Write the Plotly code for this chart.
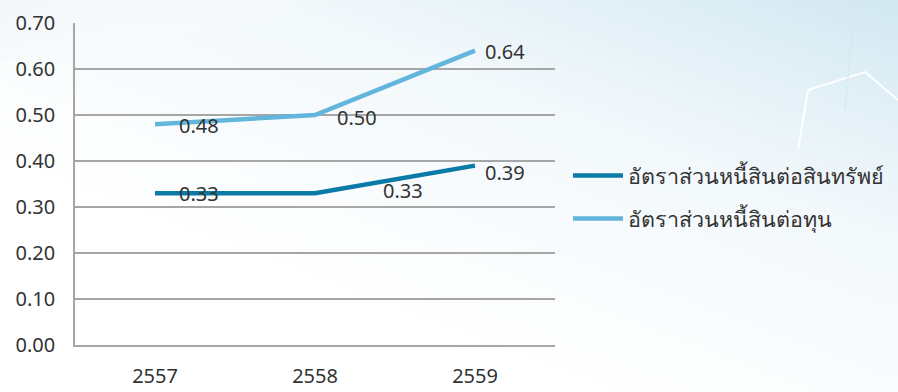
import base64
import plotly.graph_objects as go

years = ["2557", "2558", "2559"]
debt_to_assets = [0.33, 0.33, 0.39]
debt_to_equity = [0.48, 0.50, 0.64]
series_names = ["อัตราส่วนหนี้สินต่อสินทรัพย์", "อัตราส่วนหนี้สินต่อทุน"]
y_ticks = [0.0, 0.1, 0.2, 0.3, 0.4, 0.5, 0.6, 0.7]

dark = "#0A7BA6"
light = "#62B5DB"
NUMFONT = "Noto Sans"
TXTFONT = "Noto Sans"
TXT = "#333333"
NS = 20

# decorative background (gradient + faint polygon lines)
svg = """<svg xmlns='http://www.w3.org/2000/svg' width='898' height='392'>
<defs><linearGradient id='g' x1='0.35' y1='0.75' x2='1' y2='0'>
<stop offset='0' stop-color='#ffffff'/><stop offset='0.55' stop-color='#f2f8fb'/>
<stop offset='1' stop-color='#d2e8f2'/></linearGradient>
<linearGradient id='h' x1='0' y1='0' x2='1' y2='0.3'>
<stop offset='0' stop-color='#f2f5f8'/><stop offset='1' stop-color='#ffffff' stop-opacity='0'/></linearGradient></defs>
<rect width='898' height='392' fill='url(#g)'/>
<polygon points='0,0 330,0 160,40 0,60' fill='url(#h)' opacity='0.7'/>
<polyline points='808,90 865,72 898,100' fill='none' stroke='#ffffff' stroke-width='2'/>
<polyline points='808,90 798,150' fill='none' stroke='#ffffff' stroke-width='2'/>
<polyline points='855,0 845,110' fill='none' stroke='#d6e7ef' stroke-width='2' opacity='0.6'/>
</svg>"""
uri = "data:image/svg+xml;base64," + base64.b64encode(svg.encode()).decode()

fig = go.Figure()
fig.add_trace(go.Scatter(x=years, y=debt_to_assets, mode="lines", name=series_names[0],
                         line=dict(color=dark, width=4.5), legendgroup="a"))
fig.add_trace(go.Scatter(x=years, y=debt_to_equity, mode="lines", name=series_names[1],
                         line=dict(color=light, width=4.5), legendgroup="b"))

# data labels (offsets mimic the original placement); x given as category index
label_offsets_assets = [(22, 0), (66, 3), (8, -7)]
label_offsets_equity = [(22, -1), (20, -2), (8, -1)]
anns = []
for series, offs in ((debt_to_assets, label_offsets_assets), (debt_to_equity, label_offsets_equity)):
    for i, (y, (dx, dy)) in enumerate(zip(series, offs)):
        anns.append(dict(xref="x", yref="y", x=i, y=y, text="%.2f" % y, showarrow=False,
                         xanchor="left", yanchor="middle", xshift=dx, yshift=dy,
                         font=dict(size=NS, color=TXT, family=NUMFONT)))

fig.update_layout(
    width=898, height=392,
    margin=dict(l=75, r=343, t=23, b=47, autoexpand=False),
    paper_bgcolor="white", plot_bgcolor="rgba(0,0,0,0)",
    font=dict(family=NUMFONT, size=NS, color=TXT),
    images=[dict(source=uri, xref="paper", yref="paper", x=-75/480, y=1 + 23/322,
                 sizex=898/480, sizey=392/322, sizing="stretch", layer="below",
                 xanchor="left", yanchor="top")],
    annotations=anns,
    showlegend=True,
    legend=dict(xref="container", yref="container", x=568/898, y=1 - 197/392,
                xanchor="left", yanchor="middle", bgcolor="rgba(0,0,0,0)",
                font=dict(size=21.5, color=TXT, family=TXTFONT),
                itemwidth=50, tracegroupgap=12, traceorder="grouped"),
    xaxis=dict(type="category", range=[-0.5, 2.5], showgrid=False, showline=True,
               linecolor="#A6A6A6", linewidth=1.5,
               zeroline=False, ticks="", ticklabelstandoff=12, automargin=False,
               tickfont=dict(size=NS, color=TXT, family=NUMFONT)),
    yaxis=dict(range=[0, 0.7], tickvals=y_ticks, tickformat=".2f", showgrid=True,
               gridcolor="#A6A6A6", gridwidth=1.5, showline=True, linecolor="#A6A6A6",
               linewidth=1.5, zeroline=False, ticks="", ticklabelstandoff=14, automargin=False,
               tickfont=dict(size=NS, color=TXT, family=NUMFONT)),
)
fig.write_html("out.html")
